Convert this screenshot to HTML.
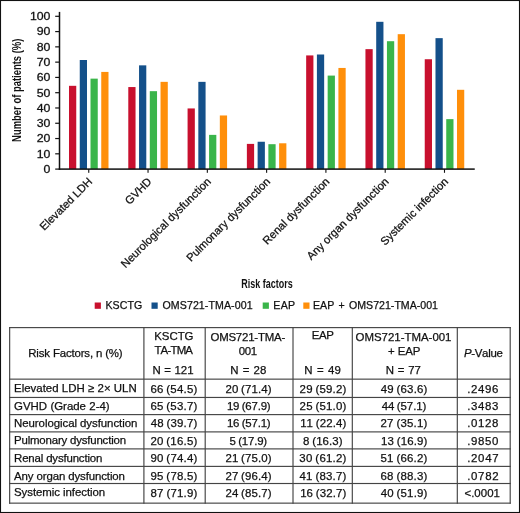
<!DOCTYPE html>
<html><head><meta charset="utf-8"><title>Figure</title>
<style>
html,body{margin:0;padding:0;background:#fff;}
body{width:520px;height:513px;overflow:hidden;}
#w{position:absolute;left:0;top:0;width:520px;height:513px;will-change:transform;background:#fff;}
svg{display:block;}
svg text{font-family:"Liberation Sans", sans-serif;stroke:#111;stroke-width:0.25px;font-kerning:none;}
svg text.b{stroke:none;}
</style></head><body><div id="w">
<svg width="520" height="513" viewBox="0 0 520 513"><g fill="#111">
<rect x="69.00" y="85.82" width="7.25" height="83.28" fill="#C8102E"/>
<rect x="79.75" y="60.00" width="7.25" height="109.10" fill="#14508A"/>
<rect x="90.50" y="78.64" width="7.25" height="90.46" fill="#3AB54A"/>
<rect x="101.25" y="71.92" width="7.25" height="97.18" fill="#FF8F0A"/>
<rect x="128.29" y="87.05" width="7.25" height="82.05" fill="#C8102E"/>
<rect x="139.04" y="65.35" width="7.25" height="103.75" fill="#14508A"/>
<rect x="149.79" y="91.17" width="7.25" height="77.93" fill="#3AB54A"/>
<rect x="160.54" y="81.85" width="7.25" height="87.25" fill="#FF8F0A"/>
<rect x="187.58" y="108.44" width="7.25" height="60.66" fill="#C8102E"/>
<rect x="198.33" y="81.85" width="7.25" height="87.25" fill="#14508A"/>
<rect x="209.08" y="134.87" width="7.25" height="34.23" fill="#3AB54A"/>
<rect x="219.83" y="115.47" width="7.25" height="53.63" fill="#FF8F0A"/>
<rect x="246.87" y="143.89" width="7.25" height="25.21" fill="#C8102E"/>
<rect x="257.62" y="141.75" width="7.25" height="27.35" fill="#14508A"/>
<rect x="268.37" y="144.19" width="7.25" height="24.91" fill="#3AB54A"/>
<rect x="279.12" y="143.28" width="7.25" height="25.82" fill="#FF8F0A"/>
<rect x="306.16" y="55.42" width="7.25" height="113.68" fill="#C8102E"/>
<rect x="316.91" y="54.50" width="7.25" height="114.60" fill="#14508A"/>
<rect x="327.66" y="75.59" width="7.25" height="93.51" fill="#3AB54A"/>
<rect x="338.41" y="67.95" width="7.25" height="101.15" fill="#FF8F0A"/>
<rect x="365.45" y="49.15" width="7.25" height="119.95" fill="#C8102E"/>
<rect x="376.20" y="21.80" width="7.25" height="147.30" fill="#14508A"/>
<rect x="386.95" y="41.21" width="7.25" height="127.89" fill="#3AB54A"/>
<rect x="397.70" y="34.18" width="7.25" height="134.92" fill="#FF8F0A"/>
<rect x="424.74" y="59.24" width="7.25" height="109.86" fill="#C8102E"/>
<rect x="435.49" y="38.15" width="7.25" height="130.95" fill="#14508A"/>
<rect x="446.24" y="119.13" width="7.25" height="49.97" fill="#3AB54A"/>
<rect x="456.99" y="89.80" width="7.25" height="79.30" fill="#FF8F0A"/>
<rect x="58.75" y="11.90" width="1.5" height="157.95"/>
<rect x="58.75" y="168.35" width="416.00" height="1.5"/>
<rect x="55.2" y="168.50" width="4" height="1.2"/>
<text transform="translate(50.40,172.90) scale(1.16,1)" font-size="10.6" text-anchor="end">0</text>
<rect x="55.2" y="153.22" width="4" height="1.2"/>
<text transform="translate(50.40,157.62) scale(1.16,1)" font-size="10.6" text-anchor="end">10</text>
<rect x="55.2" y="137.94" width="4" height="1.2"/>
<text transform="translate(50.40,142.34) scale(1.16,1)" font-size="10.6" text-anchor="end">20</text>
<rect x="55.2" y="122.66" width="4" height="1.2"/>
<text transform="translate(50.40,127.06) scale(1.16,1)" font-size="10.6" text-anchor="end">30</text>
<rect x="55.2" y="107.38" width="4" height="1.2"/>
<text transform="translate(50.40,111.78) scale(1.16,1)" font-size="10.6" text-anchor="end">40</text>
<rect x="55.2" y="92.10" width="4" height="1.2"/>
<text transform="translate(50.40,96.50) scale(1.16,1)" font-size="10.6" text-anchor="end">50</text>
<rect x="55.2" y="76.82" width="4" height="1.2"/>
<text transform="translate(50.40,81.22) scale(1.16,1)" font-size="10.6" text-anchor="end">60</text>
<rect x="55.2" y="61.54" width="4" height="1.2"/>
<text transform="translate(50.40,65.94) scale(1.16,1)" font-size="10.6" text-anchor="end">70</text>
<rect x="55.2" y="46.26" width="4" height="1.2"/>
<text transform="translate(50.40,50.66) scale(1.16,1)" font-size="10.6" text-anchor="end">80</text>
<rect x="55.2" y="30.98" width="4" height="1.2"/>
<text transform="translate(50.40,35.38) scale(1.16,1)" font-size="10.6" text-anchor="end">90</text>
<rect x="55.2" y="15.70" width="4" height="1.2"/>
<text transform="translate(50.40,20.10) scale(1.16,1)" font-size="10.6" text-anchor="end">100</text>
<rect x="88.20" y="169.10" width="1.1" height="3.7"/>
<text transform="translate(93.05,182.30) rotate(-45)" font-size="11.2" text-anchor="end">Elevated LDH</text>
<rect x="147.49" y="169.10" width="1.1" height="3.7"/>
<text transform="translate(152.34,182.30) rotate(-45)" font-size="11.2" text-anchor="end">GVHD</text>
<rect x="206.78" y="169.10" width="1.1" height="3.7"/>
<text transform="translate(211.63,182.30) rotate(-45)" font-size="11.2" text-anchor="end">Neurological dysfunction</text>
<rect x="266.07" y="169.10" width="1.1" height="3.7"/>
<text transform="translate(270.92,182.30) rotate(-45)" font-size="11.2" text-anchor="end">Pulmonary dysfunction</text>
<rect x="325.36" y="169.10" width="1.1" height="3.7"/>
<text transform="translate(330.21,182.30) rotate(-45)" font-size="11.2" text-anchor="end">Renal dysfunction</text>
<rect x="384.65" y="169.10" width="1.1" height="3.7"/>
<text transform="translate(389.50,182.30) rotate(-45)" font-size="11.2" text-anchor="end">Any organ dysfunction</text>
<rect x="443.94" y="169.10" width="1.1" height="3.7"/>
<text transform="translate(448.79,182.30) rotate(-45)" font-size="11.2" text-anchor="end">Systemic infection</text>
<text transform="translate(21.00,90.25) rotate(-90) scale(0.732,1)" font-size="12.9" text-anchor="middle" font-weight="bold" class="b">Number of patients (%)</text>
<text transform="translate(267.00,287.50) scale(0.72,1)" font-size="12.5" text-anchor="middle" font-weight="bold" class="b">Risk factors</text>
<rect x="94.7" y="302.5" width="6.2" height="6.3" fill="#C8102E"/>
<text transform="translate(105.43,308.80)" font-size="10.6" letter-spacing="0.087">KSCTG</text>
<rect x="151.5" y="302.5" width="6.2" height="6.3" fill="#14508A"/>
<text transform="translate(162.50,308.80)" font-size="10.6" letter-spacing="0.090">OMS721-TMA-001</text>
<rect x="262.7" y="302.5" width="6.2" height="6.3" fill="#3AB54A"/>
<text transform="translate(273.33,308.80)" font-size="10.6" letter-spacing="0.309">EAP</text>
<rect x="303.3" y="302.5" width="6.2" height="6.3" fill="#FF8F0A"/>
<text transform="translate(313.03,308.80)" font-size="10.6" letter-spacing="0.000" word-spacing="1.373">EAP + OMS721-TMA-001</text>
<rect x="9.08" y="327.03" width="1.15" height="176.70" fill="#444"/>
<rect x="143.33" y="327.03" width="1.15" height="176.70" fill="#444"/>
<rect x="204.62" y="327.03" width="1.15" height="176.70" fill="#444"/>
<rect x="292.43" y="327.03" width="1.15" height="176.70" fill="#444"/>
<rect x="351.73" y="327.03" width="1.15" height="176.70" fill="#444"/>
<rect x="456.73" y="327.03" width="1.15" height="176.70" fill="#444"/>
<rect x="509.62" y="327.03" width="1.15" height="176.70" fill="#444"/>
<rect x="9.08" y="327.03" width="501.70" height="1.15" fill="#444"/>
<rect x="9.08" y="378.57" width="501.70" height="1.15" fill="#444"/>
<rect x="9.08" y="396.88" width="501.70" height="1.15" fill="#444"/>
<rect x="9.08" y="414.03" width="501.70" height="1.15" fill="#444"/>
<rect x="9.08" y="431.32" width="501.70" height="1.15" fill="#444"/>
<rect x="9.08" y="448.32" width="501.70" height="1.15" fill="#444"/>
<rect x="9.08" y="465.82" width="501.70" height="1.15" fill="#444"/>
<rect x="9.08" y="482.93" width="501.70" height="1.15" fill="#444"/>
<rect x="9.08" y="502.57" width="501.70" height="1.15" fill="#444"/>
<text transform="translate(28.26,356.60)" font-size="11.45" letter-spacing="-0.160">Risk Factors, n (%)</text>
<text transform="translate(154.16,340.20)" font-size="11.45" letter-spacing="-0.012">KSCTG</text>
<text transform="translate(154.43,354.40)" font-size="11.45" letter-spacing="-0.800">TA-TMA</text>
<text transform="translate(152.56,374.30)" font-size="11.45" letter-spacing="0.000" word-spacing="0.288">N = 121</text>
<text transform="translate(210.46,340.80)" font-size="11.45" letter-spacing="-0.213">OMS721-TMA-</text>
<text transform="translate(238.70,354.60)" font-size="11.45" letter-spacing="-0.300">001</text>
<text transform="translate(230.26,374.20)" font-size="11.45" letter-spacing="0.000" word-spacing="0.992">N = 28</text>
<text transform="translate(311.63,339.30)" font-size="11.45" letter-spacing="-0.300">EAP</text>
<text transform="translate(304.26,374.20)" font-size="11.45" letter-spacing="0.000" word-spacing="1.264">N = 49</text>
<text transform="translate(355.56,340.90)" font-size="11.45" letter-spacing="-0.006">OMS721-TMA-001</text>
<text transform="translate(388.04,354.70)" font-size="11.45" letter-spacing="-0.129">+ EAP</text>
<text transform="translate(385.86,374.10)" font-size="11.45" letter-spacing="0.000" word-spacing="0.531">N = 77</text>
<text transform="translate(463.91,356.70)" font-size="11.45" letter-spacing="-0.300"><tspan font-style="italic">P</tspan>-Value</text>
<text transform="translate(14.05,392.40)" font-size="11.45" letter-spacing="0.000" word-spacing="0.088">Elevated LDH ≥ 2× ULN</text>
<text transform="translate(150.42,392.50)" font-size="11.45" letter-spacing="0.208" word-spacing="-0.600">66 (54.5)</text>
<text transform="translate(225.42,392.50)" font-size="11.45" letter-spacing="0.120" word-spacing="-0.600">20 (71.4)</text>
<text transform="translate(299.62,392.50)" font-size="11.45" letter-spacing="0.195" word-spacing="-0.600">29 (59.2)</text>
<text transform="translate(380.74,392.50)" font-size="11.45" letter-spacing="0.181" word-spacing="-0.600">49 (63.6)</text>
<text transform="translate(467.15,392.50)" font-size="11.45" letter-spacing="0.674">.2496</text>
<text transform="translate(14.05,409.70)" font-size="11.45" letter-spacing="0.000" word-spacing="0.110">GVHD (Grade 2-4)</text>
<text transform="translate(150.42,410.00)" font-size="11.45" letter-spacing="0.208" word-spacing="-0.600">65 (53.7)</text>
<text transform="translate(226.93,410.00)" font-size="11.45" letter-spacing="-0.181" word-spacing="-0.600">19 (67.9)</text>
<text transform="translate(299.62,410.00)" font-size="11.45" letter-spacing="0.195" word-spacing="-0.600">25 (51.0)</text>
<text transform="translate(381.64,410.00)" font-size="11.45" letter-spacing="-0.057" word-spacing="-0.600">44 (57.1)</text>
<text transform="translate(467.15,410.00)" font-size="11.45" letter-spacing="0.674">.3483</text>
<text transform="translate(14.05,427.20)" font-size="11.45" letter-spacing="-0.059">Neurological dysfunction</text>
<text transform="translate(150.74,427.30)" font-size="11.45" letter-spacing="0.168" word-spacing="-0.600">48 (39.7)</text>
<text transform="translate(226.93,427.30)" font-size="11.45" letter-spacing="-0.181" word-spacing="-0.600">16 (57.1)</text>
<text transform="translate(300.13,427.30)" font-size="11.45" letter-spacing="0.132" word-spacing="-0.600">11 (22.4)</text>
<text transform="translate(380.42,427.30)" font-size="11.45" letter-spacing="0.220" word-spacing="-0.600">27 (35.1)</text>
<text transform="translate(467.15,427.30)" font-size="11.45" letter-spacing="0.673">.0128</text>
<text transform="translate(14.05,444.10)" font-size="11.45" letter-spacing="-0.187">Pulmonary dysfunction</text>
<text transform="translate(150.42,444.70)" font-size="11.45" letter-spacing="0.207" word-spacing="-0.600">20 (16.5)</text>
<text transform="translate(229.54,444.70)" font-size="11.45" letter-spacing="-0.170" word-spacing="-0.600">5 (17.9)</text>
<text transform="translate(303.10,444.70)" font-size="11.45" letter-spacing="0.093" word-spacing="-0.600">8 (16.3)</text>
<text transform="translate(381.03,444.70)" font-size="11.45" letter-spacing="0.144" word-spacing="-0.600">13 (16.9)</text>
<text transform="translate(467.15,444.70)" font-size="11.45" letter-spacing="0.660">.9850</text>
<text transform="translate(14.05,461.90)" font-size="11.45" letter-spacing="-0.164">Renal dysfunction</text>
<text transform="translate(150.46,462.10)" font-size="11.45" letter-spacing="0.202" word-spacing="-0.600">90 (74.4)</text>
<text transform="translate(225.42,462.10)" font-size="11.45" letter-spacing="0.120" word-spacing="-0.600">21 (75.0)</text>
<text transform="translate(299.36,462.10)" font-size="11.45" letter-spacing="0.227" word-spacing="-0.600">30 (61.2)</text>
<text transform="translate(380.54,462.10)" font-size="11.45" letter-spacing="0.205" word-spacing="-0.600">51 (66.2)</text>
<text transform="translate(467.15,462.10)" font-size="11.45" letter-spacing="0.692">.2047</text>
<text transform="translate(14.05,479.70)" font-size="11.45" letter-spacing="-0.115">Any organ dysfunction</text>
<text transform="translate(150.46,479.50)" font-size="11.45" letter-spacing="0.202" word-spacing="-0.600">95 (78.5)</text>
<text transform="translate(225.42,479.50)" font-size="11.45" letter-spacing="0.120" word-spacing="-0.600">27 (96.4)</text>
<text transform="translate(299.54,479.50)" font-size="11.45" letter-spacing="0.206" word-spacing="-0.600">41 (83.7)</text>
<text transform="translate(380.42,479.50)" font-size="11.45" letter-spacing="0.220" word-spacing="-0.600">68 (88.3)</text>
<text transform="translate(467.15,479.50)" font-size="11.45" letter-spacing="0.692">.0782</text>
<text transform="translate(14.05,496.10)" font-size="11.45" letter-spacing="-0.063">Systemic infection</text>
<text transform="translate(150.50,496.90)" font-size="11.45" letter-spacing="0.197" word-spacing="-0.600">87 (71.9)</text>
<text transform="translate(225.42,496.90)" font-size="11.45" letter-spacing="0.120" word-spacing="-0.600">24 (85.7)</text>
<text transform="translate(300.13,496.90)" font-size="11.45" letter-spacing="0.132" word-spacing="-0.600">16 (32.7)</text>
<text transform="translate(380.74,496.90)" font-size="11.45" letter-spacing="0.181" word-spacing="-0.600">40 (51.9)</text>
<text transform="translate(464.44,496.90)" font-size="11.45" letter-spacing="0.037">&lt;.0001</text>
<rect x="0" y="0" width="520" height="1.05"/>
<rect x="0" y="0" width="1.05" height="513"/>
<rect x="518.95" y="0" width="1.05" height="513"/>
<rect x="0" y="511.95" width="520" height="1.05"/>
</g></svg>
</div></body></html>
